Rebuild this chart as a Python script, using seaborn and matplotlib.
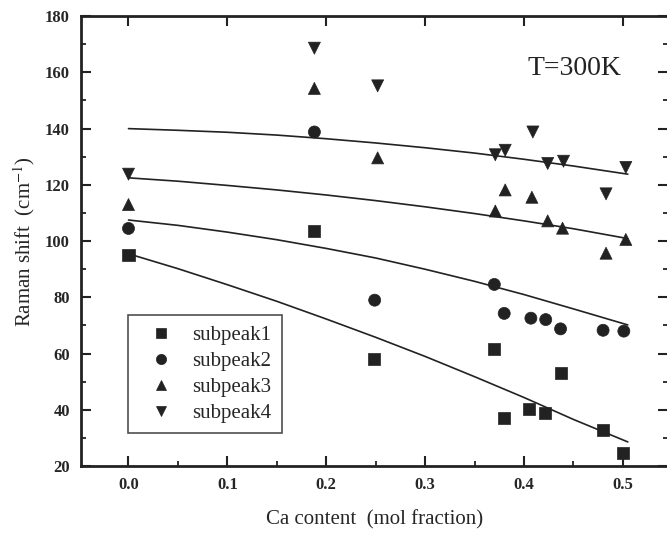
import numpy as np
import pandas as pd
import matplotlib
matplotlib.use("Agg")
import matplotlib.pyplot as plt
import seaborn as sns
from matplotlib.ticker import MultipleLocator

# ---- data ----
sp1_x = [0.0, 0.188, 0.248, 0.370, 0.380, 0.405, 0.421, 0.437, 0.480, 0.500]
sp1_y = [95.0, 103.5, 58.0, 61.5, 37.2, 40.2, 39.0, 53.0, 33.0, 24.5]

sp2_x = [0.0, 0.188, 0.249, 0.370, 0.380, 0.407, 0.422, 0.437, 0.480, 0.501]
sp2_y = [104.5, 138.8, 79.0, 84.6, 74.3, 72.6, 72.1, 68.8, 68.3, 68.0]

sp3_x = [0.0, 0.188, 0.252, 0.371, 0.381, 0.408, 0.424, 0.439, 0.483, 0.503]
sp3_y = [113.0, 154.3, 129.6, 110.7, 118.2, 115.6, 107.2, 104.6, 95.7, 100.6]

sp4_x = [0.0, 0.188, 0.252, 0.371, 0.381, 0.409, 0.424, 0.440, 0.483, 0.503]
sp4_y = [123.8, 168.6, 155.2, 130.7, 132.3, 138.8, 127.6, 128.4, 116.8, 126.2]

# fitted curves
fit_x = [0.0, 0.05, 0.10, 0.15, 0.20, 0.25, 0.30, 0.35, 0.40, 0.45, 0.505]
fit1_y = [95.5, 90.2, 84.5, 78.6, 72.3, 65.8, 59.0, 51.8, 44.4, 36.6, 28.6]
fit2_y = [107.5, 105.6, 103.2, 100.5, 97.4, 94.0, 90.0, 85.7, 81.0, 75.9, 70.2]
fit3_y = [122.5, 121.3, 119.8, 118.2, 116.4, 114.4, 112.2, 109.8, 107.2, 104.4, 100.9]
fit4_y = [140.0, 139.4, 138.7, 137.7, 136.4, 134.9, 133.2, 131.3, 129.1, 126.7, 123.8]

series_names = ["subpeak1", "subpeak2", "subpeak3", "subpeak4"]
x_ticks = [0.0, 0.1, 0.2, 0.3, 0.4, 0.5]
y_ticks = [20, 40, 60, 80, 100, 120, 140, 160, 180]

# ---- build tables ----
pts = pd.concat([
    pd.DataFrame({"x": sx, "y": sy, "series": n})
    for sx, sy, n in zip([sp1_x, sp2_x, sp3_x, sp4_x],
                         [sp1_y, sp2_y, sp3_y, sp4_y], series_names)
], ignore_index=True)
fits = pd.concat([
    pd.DataFrame({"x": fit_x, "y": fy, "fit": f"fit{i+1}"})
    for i, fy in enumerate([fit1_y, fit2_y, fit3_y, fit4_y])
], ignore_index=True)

sns.set_theme(style="ticks")
plt.rcParams["font.family"] = ["Liberation Serif", "DejaVu Serif"]
plt.rcParams["mathtext.fontset"] = "stix"

fig = plt.figure(figsize=(6.67, 5.37), dpi=100)
ax = fig.add_axes([0.1215, 0.132, 0.8805, 0.838])

ink = "#222222"
sns.lineplot(data=fits, x="x", y="y", units="fit", estimator=None,
             color=ink, linewidth=1.2, ax=ax, legend=False, sort=False)
sns.scatterplot(data=pts, x="x", y="y", style="series",
                markers={"subpeak1": "s", "subpeak2": "o",
                         "subpeak3": "^", "subpeak4": "v"},
                color=ink, edgecolor=ink, linewidth=0.5, s=75, ax=ax,
                legend=True)

ax.set_xlim(-0.048, 0.546)
ax.set_ylim(20, 180)
ax.set_xticks(x_ticks)
ax.set_xticklabels([f"{v:.1f}" for v in x_ticks])
ax.set_yticks(y_ticks)
ax.xaxis.set_minor_locator(MultipleLocator(0.05))
ax.yaxis.set_minor_locator(MultipleLocator(10))
ax.tick_params(which="major", direction="in", length=7, width=1.5,
               top=True, right=True, labelsize=12, pad=8, color=ink)
ax.tick_params(which="minor", direction="in", length=3.5, width=1.3,
               top=False, right=True, color=ink)
for lbl in ax.get_xticklabels() + ax.get_yticklabels():
    lbl.set_fontweight("bold")
for sp in ax.spines.values():
    sp.set_linewidth(2.0)
    sp.set_color(ink)

ax.set_xlabel("Ca content  (mol fraction)", fontsize=15, labelpad=12)
ax.set_ylabel(r"Raman shift  (cm$^{-1}$)", fontsize=15, labelpad=6)

ax.text(0.76, 0.87, "T=300K", transform=ax.transAxes, fontsize=20,
        color=ink)

handles, labels = ax.get_legend_handles_labels()
leg = ax.legend(handles, labels, loc="lower left",
                bbox_to_anchor=(0.080, 0.073), borderaxespad=0,
                fontsize=15, frameon=True, fancybox=False, edgecolor=ink,
                handletextpad=0.4, borderpad=0.5, labelspacing=0.3,
                markerscale=0.85, handlelength=2.2)
leg.get_frame().set_linewidth(1.2)
leg.get_frame().set_facecolor("white")

fig.savefig("out.png", dpi=100)
